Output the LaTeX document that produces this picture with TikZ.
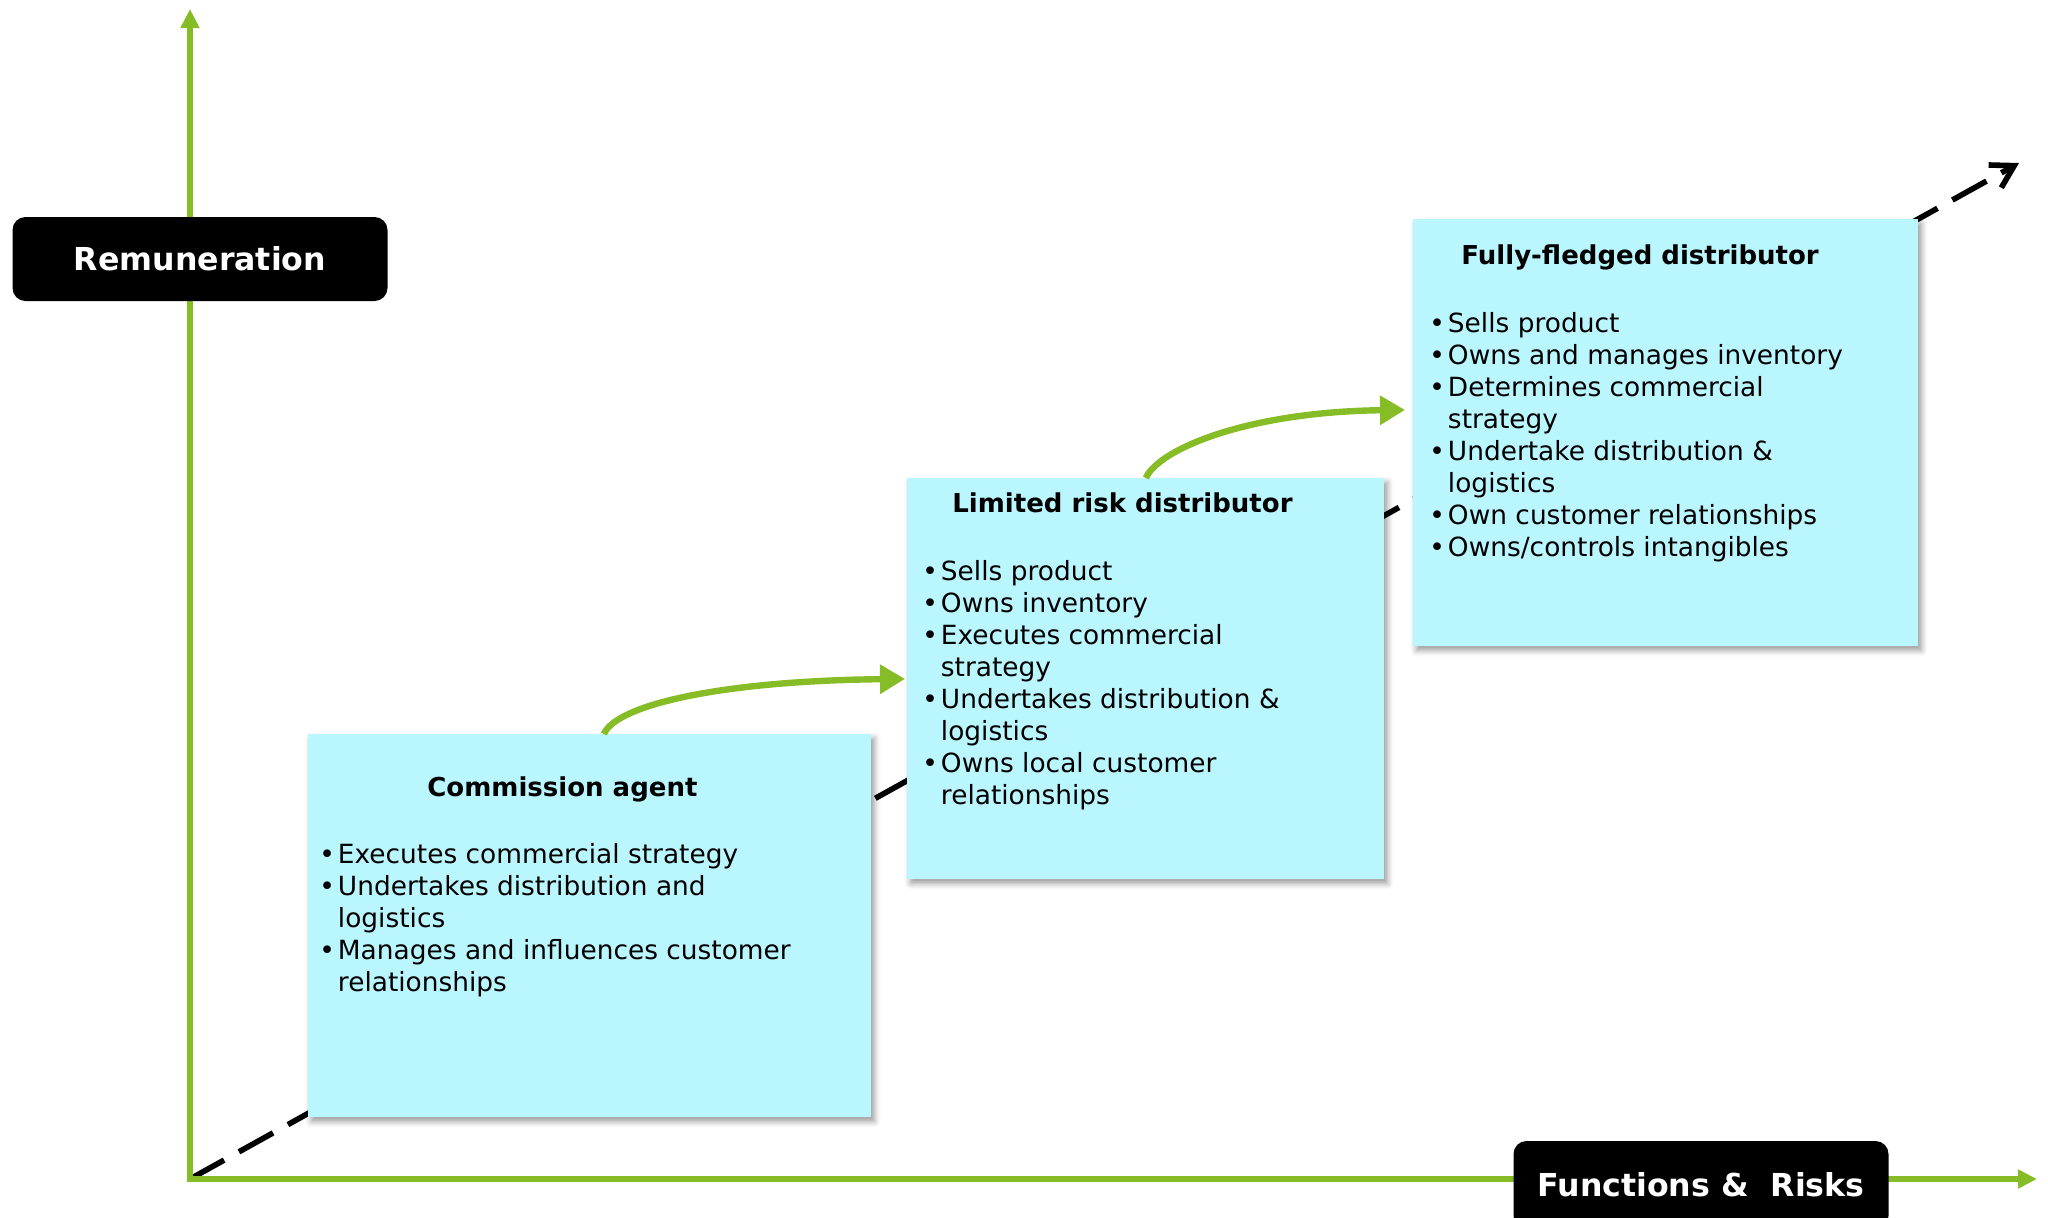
\documentclass[tikz,border=0pt]{standalone}
\usepackage{fontspec}
\setmainfont{DejaVu Sans}
\usepackage{tikz}
\usetikzlibrary{calc}
\usetikzlibrary{arrows.meta}
\usetikzlibrary{shadows.blur}
\usetikzlibrary{positioning}

\definecolor{axisgreen}{HTML}{86BC25}
\definecolor{boxcyan}{HTML}{B9F6FE}

\newcommand{\itemdot}{\textbullet\kern1.5pt}
\newcommand{\itemgap}{\phantom{\itemdot}}

\begin{document}
\begin{tikzpicture}[x=0.5pt,y=-0.5pt,
		axis/.style={draw=axisgreen,line width=2.6pt,line join=miter,{Triangle[length=9.5pt,width=9pt]}-{Triangle[length=9.5pt,width=9pt]}},
		tag/.style={fill=black,text=white,rounded corners=6.5pt,minimum width=187.5pt,minimum height=42pt,font=\fontsize{15.8}{19}\selectfont\bfseries},
		role/.style={fill=boxcyan,anchor=north west,inner sep=0pt,blur shadow={shadow xshift=1.5pt,shadow yshift=-2pt,shadow blur radius=3pt,shadow opacity=40}},
		title/.style={anchor=base west,inner sep=0pt,font=\fontsize{13}{16}\selectfont\bfseries},
		duties/.style={anchor=north west,inner sep=0pt,align=left,font=\fontsize{13.2}{16}\selectfont},
		hop/.style={draw=axisgreen,line width=3.2pt,-{Triangle[length=12.5pt,width=14pt]}},
		trend/.style={draw=black,line width=2.8pt,dash pattern=on 19.5pt off 8.5pt,-{Straight Barb[length=11pt,width=13pt]}}]
		\useasboundingbox (0,0) rectangle (2048,1217);
		
		% axes
		\coordinate (origin) at (190,1179);
		\coordinate (ytip) at (190,9);
		\coordinate (xtip) at (2037,1179);
		\coordinate (trendtip) at (2019,163);
		\draw[trend] (origin) -- (trendtip);
		\draw[axis] (ytip) -- (origin) -- (xtip);
		\node[tag] (remun) at (200,259) {Remuneration};
		\node[tag,minimum height=44pt] (funcrisk) at (1701,1185) {Functions \&\ \ Risks};
		
		% the three profiles
		\node[role,minimum width=281.5pt,minimum height=191.5pt] (agent) at (308,734) {};
		\node[role,minimum width=238.5pt,minimum height=200.5pt] (lrd) at (907,478) {};
		\node[role,minimum width=252.5pt,minimum height=213.5pt] (ffd) at (1413,219) {};
		
		\node[title] (agent-title) at (427,796) {Commission agent};
		\node[duties] (agent-list) at (319,843) {\itemdot Executes commercial strategy\\
			\itemdot Undertakes distribution and\\ \itemgap logistics\\
			\itemdot Manages and influences customer\\ \itemgap relationships};
		
		\node[title] (lrd-title) at (952,512) {Limited risk distributor};
		\node[duties] (lrd-list) at (922,560) {\itemdot Sells product\\ \itemdot Owns inventory\\
			\itemdot Executes commercial\\ \itemgap strategy\\
			\itemdot Undertakes distribution \&\\ \itemgap logistics\\
			\itemdot Owns local customer\\ \itemgap relationships};
		
		\node[title] (ffd-title) at (1461,264) {Fully-fledged distributor};
		\node[duties] (ffd-list) at (1429,312) {\itemdot Sells product\\ \itemdot Owns and manages inventory\\
			\itemdot Determines commercial\\ \itemgap strategy\\
			\itemdot Undertake distribution \&\\ \itemgap logistics\\
			\itemdot Own customer relationships\\ \itemdot Owns/controls intangibles};
		
		% moves up the scale
		\draw[hop] ([xshift=7pt]agent.north) .. controls +(12,-29) and +(-185,2) .. ([xshift=-1pt]lrd.west);
		\draw[hop] (lrd.north) .. controls +(12,-28) and +(-160,2) .. ([xshift=-4pt,yshift=11.5pt]ffd.west);
	\end{tikzpicture}
\end{document}
